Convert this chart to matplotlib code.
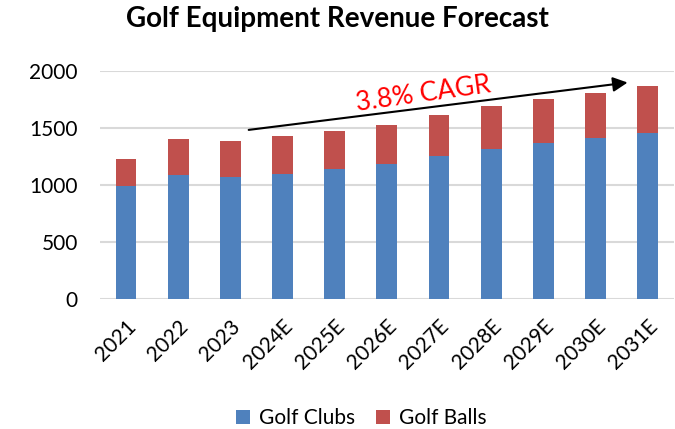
import matplotlib.pyplot as plt
import numpy as np

years = ['2021', '2022', '2023', '2024E', '2025E', '2026E', '2027E', '2028E', '2029E', '2030E', '2031E']
golf_clubs = [990, 1092, 1069, 1101, 1139, 1185, 1252, 1314, 1369, 1410, 1454]
golf_balls = [236, 312, 317, 332, 332, 344, 359, 375, 384, 396, 410]

plt.rcParams['font.family'] = ['Lato', 'DejaVu Sans']

fig = plt.figure(figsize=(6.75, 4.29), dpi=100)
ax = fig.add_axes([0.148, 0.302, 0.85, 0.533])

x = np.arange(len(years))
ax.bar(x, golf_clubs, width=0.4, color='#4F81BD', label='Golf Clubs', zorder=3)
ax.bar(x, golf_balls, width=0.4, bottom=golf_clubs, color='#C0504D', label='Golf Balls', zorder=3)

ax.set_xlim(-0.5, 10.5)
ax.set_ylim(0, 2000)
ax.set_yticks([0, 500, 1000, 1500, 2000])
ax.yaxis.grid(True, color='#D9D9D9', linewidth=1.5, zorder=0)
ax.set_axisbelow(True)
for s in ax.spines.values():
    s.set_visible(False)
ax.tick_params(axis='both', length=0, labelsize=15)
ax.tick_params(axis='y', pad=16)
ax.tick_params(axis='x', pad=12)
ax.set_xticks(x)
ax.set_xticklabels(years, rotation=45, ha='right', rotation_mode='anchor')

# CAGR arrow
ax.annotate('', xy=(9.67, 1900), xytext=(2.3, 1480),
            arrowprops=dict(arrowstyle='-|>', color='black', lw=1.5, mutation_scale=22), zorder=4)
ax.text(5.7, 1795, '3.8% CAGR', color='red', fontsize=19, rotation=8,
        ha='center', va='center', rotation_mode='anchor')

fig.suptitle('Golf Equipment Revenue Forecast', fontsize=20, fontweight='bold', y=0.985)

ax.legend(loc='lower center', bbox_to_anchor=(0.455, -0.645), ncol=2, frameon=False,
          fontsize=15, handlelength=0.7, handleheight=0.7, columnspacing=1.0, handletextpad=0.4)

fig.savefig('out.png', dpi=100)
